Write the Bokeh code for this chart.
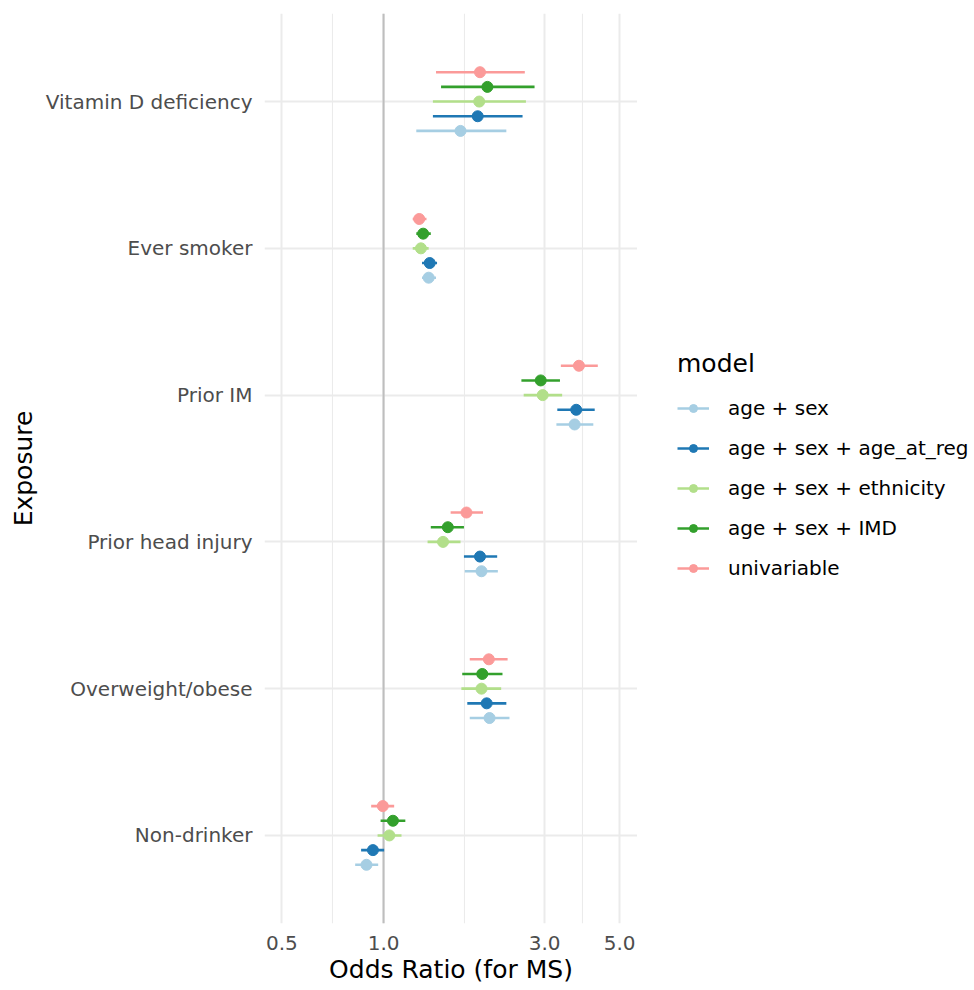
from bokeh.plotting import figure
from bokeh.layouts import row
from bokeh.models import (ColumnDataSource, Range1d, FixedTicker, Span, Legend,
                          LegendItem, CustomJSTickFormatter)
from bokeh.embed import file_html
from bokeh.resources import INLINE

# categories, bottom to top
exposures = ["Non-drinker", "Overweight/obese", "Prior head injury",
             "Prior IM", "Ever smoker", "Vitamin D deficiency"]
models = ["age + sex", "age + sex + age_at_reg", "age + sex + ethnicity",
          "age + sex + IMD", "univariable"]
colors = ["#A6CEE3", "#1F78B4", "#B2DF8A", "#33A02C", "#FB9A99"]

# odds ratios and 95% CI, in the order of `exposures`
or_age_sex = [0.89, 2.06, 1.95, 3.68, 1.36, 1.69]
lo_age_sex = [0.824, 1.80, 1.74, 3.25, 1.30, 1.25]
hi_age_sex = [0.964, 2.36, 2.18, 4.18, 1.43, 2.31]

or_age_reg = [0.93, 2.02, 1.93, 3.72, 1.37, 1.90]
lo_age_reg = [0.858, 1.77, 1.73, 3.27, 1.30, 1.40]
hi_age_reg = [1.004, 2.31, 2.17, 4.22, 1.44, 2.58]

or_ethnicity = [1.04, 1.95, 1.50, 2.96, 1.29, 1.92]
lo_ethnicity = [0.96, 1.70, 1.35, 2.60, 1.22, 1.40]
hi_ethnicity = [1.13, 2.23, 1.69, 3.38, 1.36, 2.64]

or_imd = [1.066, 1.96, 1.55, 2.92, 1.31, 2.03]
lo_imd = [0.98, 1.71, 1.38, 2.56, 1.25, 1.48]
hi_imd = [1.16, 2.25, 1.73, 3.33, 1.38, 2.80]

or_univ = [0.995, 2.05, 1.76, 3.79, 1.275, 1.93]
lo_univ = [0.919, 1.80, 1.58, 3.35, 1.22, 1.43]
hi_univ = [1.075, 2.33, 1.97, 4.31, 1.34, 2.62]

x_ticks = [0.5, 1.0, 3.0, 5.0]
x_minor = [0.7071, 1.7321, 3.873]

series = [(or_age_sex, lo_age_sex, hi_age_sex),
          (or_age_reg, lo_age_reg, hi_age_reg),
          (or_ethnicity, lo_ethnicity, hi_ethnicity),
          (or_imd, lo_imd, hi_imd),
          (or_univ, lo_univ, hi_univ)]

FONT = "DejaVu Sans"

# ---- main panel ----
p = figure(width=637, height=990, x_axis_type="log",
           x_range=Range1d(0.444, 5.65), y_range=Range1d(0.4, 6.6),
           output_backend="svg", toolbar_location=None,
           min_border_left=264, min_border_right=0,
           min_border_top=13, min_border_bottom=67)
p.outline_line_color = None
p.background_fill_color = "white"
p.border_fill_color = "white"

xt = FixedTicker(ticks=x_ticks, minor_ticks=x_minor)
p.xaxis.ticker = xt
p.xgrid.ticker = xt
p.xaxis.formatter = CustomJSTickFormatter(code="return tick.toFixed(1);")
yt = FixedTicker(ticks=[i + 1 for i in range(len(exposures))])
p.yaxis.ticker = yt
p.ygrid.ticker = yt
p.yaxis.major_label_overrides = {i + 1: e for i, e in enumerate(exposures)}

for ax in (p.xaxis, p.yaxis):
    ax.axis_line_color = None
    ax.major_tick_line_color = None
    ax.minor_tick_line_color = None
    ax.major_tick_out = 0
    ax.major_tick_in = 0
    ax.minor_tick_out = 0
    ax.minor_tick_in = 0
    ax.major_label_text_font = FONT
    ax.major_label_text_font_size = "20px"
    ax.major_label_text_color = "#4D4D4D"
    ax.axis_label_text_font = FONT
    ax.axis_label_text_font_size = "25px"
    ax.axis_label_text_font_style = "normal"
    ax.axis_label_text_color = "black"
p.xaxis.major_label_standoff = 12
p.xaxis.axis_label = "Odds Ratio (for MS)"
p.xaxis.axis_label_standoff = 2
p.yaxis.major_label_standoff = 12
p.yaxis.axis_label = "Exposure"
p.yaxis.axis_label_standoff = 5

p.xgrid.grid_line_color = "#EBEBEB"
p.xgrid.grid_line_width = 2
p.xgrid.minor_grid_line_color = "#EBEBEB"
p.xgrid.minor_grid_line_width = 1.1
p.ygrid.grid_line_color = "#EBEBEB"
p.ygrid.grid_line_width = 2

p.add_layout(Span(location=1.0, dimension="height", line_color="#BEBEBE",
                  line_width=2, level="underlay"))

for i, (m, c, (o, lo, hi)) in enumerate(zip(models, colors, series)):
    ys = [k + 1 + (i - 2) * 0.1 for k in range(len(exposures))]
    src = ColumnDataSource(dict(odds=o, lo=lo, hi=hi, y=ys))
    p.segment(x0="lo", y0="y", x1="hi", y1="y", line_color=c,
              line_width=2.6, source=src)
    p.scatter(x="odds", y="y", size=11, fill_color=c, line_color=c,
              source=src)

# ---- legend panel ----
lg = figure(width=337, height=990, x_range=Range1d(0, 1), y_range=Range1d(0, 1),
            output_backend="svg", toolbar_location=None,
            x_axis_location=None, y_axis_location=None,
            min_border_left=0, min_border_right=0,
            min_border_top=0, min_border_bottom=0)
lg.outline_line_color = None
lg.xgrid.visible = False
lg.ygrid.visible = False
lg.background_fill_color = "white"
lg.border_fill_color = "white"

items = []
for m, c in zip(models, colors):
    # a single off-range point: nothing shows in the panel, only the key
    key_src = ColumnDataSource(dict(x=[-5.0], y=[-5.0]))
    seg = lg.segment(x0="x", y0="y", x1="x", y1="y", line_color=c,
                     line_width=2.6, source=key_src)
    sc = lg.scatter(x="x", y="y", size=11, fill_color=c, line_color=c,
                    source=key_src)
    items.append(LegendItem(label=m, renderers=[seg, sc]))

legend = Legend(items=items, location=(40, 343), padding=0, margin=0,
                spacing=16, glyph_width=32, glyph_height=20, label_standoff=19,
                label_text_font=FONT, label_text_font_size="20px",
                label_text_color="black",
                title="model", title_text_font=FONT,
                title_text_font_size="25px", title_text_font_style="normal",
                title_text_color="black", title_standoff=18,
                border_line_color=None, background_fill_alpha=0)
lg.add_layout(legend)

open("out.html", "w").write(file_html(row(p, lg), INLINE))
